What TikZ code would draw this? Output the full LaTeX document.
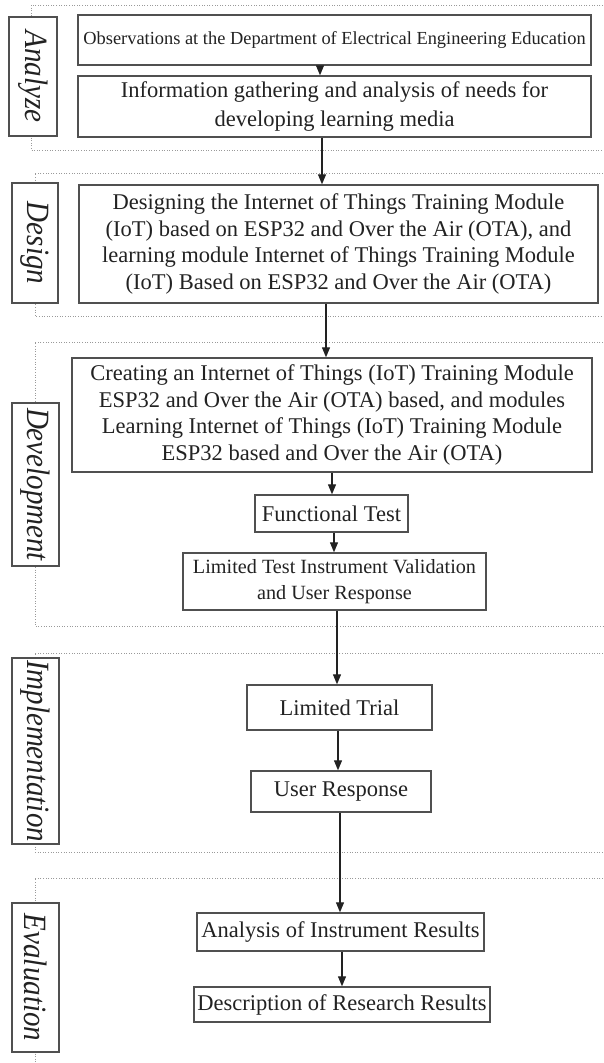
\documentclass[tikz,border=0pt]{standalone}
\usepackage{fontspec}
\setmainfont{Liberation Serif}
\usetikzlibrary{arrows.meta}
\definecolor{ink}{HTML}{222222}
\definecolor{frame}{HTML}{505050}
\definecolor{dots}{HTML}{9A9A9A}
% phase names are set a little taller than wide
\newcommand{\phasename}[1]{\scalebox{1}[1.12]{#1}}
\begin{document}
\begin{tikzpicture}[x=1pt,y=-1pt,
  stepbox/.style={draw=frame, line width=1.4pt, fill=white, text=ink, inner sep=0pt,
    align=center, font=\fontsize{22.5}{27}\selectfont},
  phase/.style={draw=frame, line width=1.4pt, fill=white, text=ink, inner sep=0pt,
    rotate=-90, font=\fontsize{29}{32}\selectfont\itshape},
  zone/.style={draw=dots, line width=0.9pt, dash pattern=on 1pt off 1.6pt},
  flow/.style={draw=ink, line width=1.2pt, -{Triangle[length=10pt,width=8pt]}}]
\useasboundingbox (0,0) rectangle (603,1063);
\fill[white] (0,0) rectangle (603,1063);

% dotted phase frames (open to the right)
\draw[zone] (603,5) -- (31,5) -- (31,150) -- (603,150);
\draw[zone] (603,173) -- (35,173) -- (35,316) -- (603,316);
\draw[zone] (603,342) -- (35,342) -- (35,626) -- (603,626);
\draw[zone] (603,653) -- (35,653) -- (35,852) -- (603,852);
\draw[zone] (603,878) -- (35,878) -- (35,1063);

% phase labels
\node[phase, minimum width=119pt, minimum height=48pt] (pa) at (33,76.5) {\phasename{Analyze}};
\node[phase, minimum width=120pt, minimum height=46pt] (pd) at (35,243) {\phasename{Design}};
\node[phase, minimum width=163pt, minimum height=47pt] (pv) at (35.5,484.5) {\phasename{Development}};
\node[phase, minimum width=186pt, minimum height=47pt] (pi) at (35.5,751) {\phasename{Implementation}};
\node[phase, minimum width=149pt, minimum height=47pt] (pe) at (35.5,977.5) {\phasename{Evaluation}};

% process steps
\node[stepbox, minimum width=513pt, minimum height=50pt, font=\fontsize{18.4}{22}\selectfont] (b1) at (334.5,40)
  {Observations at the Department of Electrical Engineering Education};
\node[stepbox, minimum width=513pt, minimum height=61pt, font=\fontsize{22.5}{29}\selectfont] (b2) at (334.5,106.5)
  {Information gathering and analysis of needs for\\developing learning media};
\node[stepbox, minimum width=519pt, minimum height=118pt, font=\fontsize{22.5}{26.5}\selectfont] (b3) at (338.5,244)
  {Designing the Internet of Things Training Module\\(IoT) based on ESP32 and Over the Air (OTA), and\\learning module Internet of Things Training Module\\(IoT) Based on ESP32 and Over the Air (OTA)};
\node[stepbox, minimum width=520pt, minimum height=114pt, font=\fontsize{22.5}{26.5}\selectfont] (b4) at (332,415)
  {Creating an Internet of Things (IoT) Training Module\\ESP32 and Over the Air (OTA) based, and modules\\Learning Internet of Things (IoT) Training Module\\ESP32 based and Over the Air (OTA)};
\node[stepbox, minimum width=153pt, minimum height=37pt] (b5) at (331.5,513.5) {Functional Test};
\node[stepbox, minimum width=303pt, minimum height=57pt, font=\fontsize{20.2}{26.5}\selectfont] (b6) at (334.5,581.5)
  {Limited Test Instrument Validation\\and User Response};
\node[stepbox, minimum width=185pt, minimum height=45pt] (b7) at (339.5,707.5) {Limited Trial};
\node[stepbox, minimum width=180pt, minimum height=41pt] (b8) at (341,791.5) {User Response};
\node[stepbox, minimum width=287pt, minimum height=38pt] (b9) at (340.5,932) {Analysis of Instrument Results};
\node[stepbox, minimum width=296pt, minimum height=35pt] (b10) at (342,1004.5) {Description of Research Results};

% connectors
\draw[flow] (b1.south -| 320,0) -- (b2.north -| 320,0);
\draw[flow] (b2.south -| 322,0) -- (b3.north -| 322,0);
\draw[flow] (b3.south -| 326,0) -- (b4.north -| 326,0);
\draw[flow] (b4.south -| 332,0) -- (b5.north -| 332,0);
\draw[flow] (b5.south -| 334,0) -- (b6.north -| 334,0);
\draw[flow] (b6.south -| 337,0) -- (b7.north -| 337,0);
\draw[flow] (b7.south -| 338,0) -- (b8.north -| 338,0);
\draw[flow] (b8.south -| 340,0) -- (b9.north -| 340,0);
\draw[flow] (b9.south -| 342,0) -- (b10.north -| 342,0);
\end{tikzpicture}
\end{document}
